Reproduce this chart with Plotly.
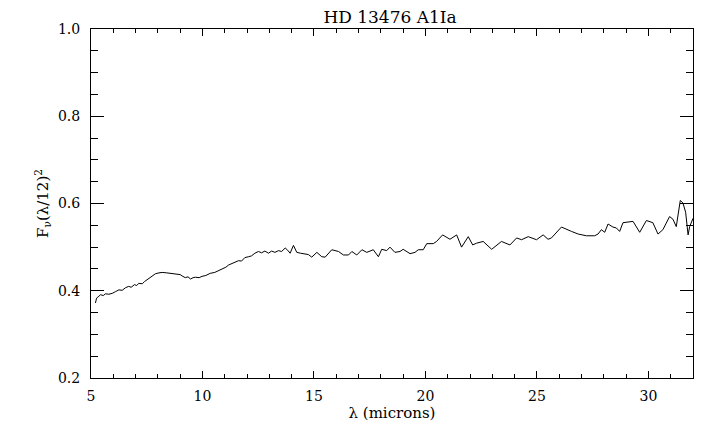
import plotly.graph_objects as go

wavelength = [5.20, 5.25, 5.32, 5.43, 5.55, 5.65, 5.80, 5.95, 6.10, 6.25, 6.40, 6.55, 6.69, 6.80,
              6.95, 7.05, 7.14, 7.30, 7.40, 7.52, 7.70, 7.89, 8.05, 8.19, 8.40, 8.64, 8.80, 9.00,
              9.12, 9.23, 9.35, 9.46, 9.58, 9.68, 9.85, 9.98, 10.15, 10.35, 10.55, 10.72, 10.90,
              11.05, 11.17, 11.30, 11.45, 11.62, 11.75, 11.90, 12.07, 12.20, 12.35, 12.51, 12.65,
              12.80, 12.96, 13.10, 13.25, 13.41, 13.55, 13.71, 13.82, 13.93, 14.08, 14.23, 14.40,
              14.60, 14.75, 14.90, 15.13, 15.35, 15.50, 15.80, 16.10, 16.32, 16.55, 16.70, 16.92,
              17.15, 17.37, 17.66, 17.89, 18.04, 18.26, 18.41, 18.63, 18.86, 19.00, 19.31, 19.53,
              19.68, 19.90, 20.06, 20.35, 20.50, 20.77, 21.10, 21.40, 21.62, 21.92, 22.12, 22.29,
              22.59, 22.97, 23.41, 23.79, 24.09, 24.31, 24.61, 24.98, 25.28, 25.50, 25.65, 26.10,
              26.55, 26.85, 27.22, 27.59, 27.74, 27.89, 28.04, 28.19, 28.41, 28.56, 28.71, 28.86,
              29.31, 29.61, 29.91, 30.20, 30.43, 30.65, 30.95, 31.10, 31.25, 31.43, 31.55, 31.67,
              31.78, 31.85, 32.00]
flux = [0.372, 0.383, 0.386, 0.391, 0.389, 0.393, 0.392, 0.394, 0.398, 0.402, 0.401, 0.407, 0.410, 0.408,
        0.414, 0.412, 0.417, 0.416, 0.421, 0.425, 0.432, 0.439, 0.441, 0.442, 0.441, 0.440, 0.439, 0.437,
        0.433, 0.430, 0.432, 0.427, 0.430, 0.431, 0.430, 0.433, 0.435, 0.440, 0.442, 0.446, 0.452,
        0.454, 0.459, 0.462, 0.464, 0.469, 0.468, 0.476, 0.478, 0.480, 0.486, 0.490, 0.487,
        0.491, 0.486, 0.491, 0.488, 0.492, 0.490, 0.498, 0.493, 0.486, 0.504, 0.488, 0.486,
        0.485, 0.483, 0.477, 0.488, 0.478, 0.477, 0.494, 0.490, 0.482, 0.482, 0.490, 0.482,
        0.494, 0.488, 0.494, 0.478, 0.495, 0.492, 0.500, 0.488, 0.490, 0.495, 0.485, 0.488,
        0.494, 0.494, 0.508, 0.508, 0.513, 0.528, 0.518, 0.528, 0.500, 0.524, 0.505, 0.509,
        0.513, 0.495, 0.513, 0.505, 0.521, 0.517, 0.524, 0.517, 0.528, 0.518, 0.521, 0.546,
        0.536, 0.530, 0.526, 0.526, 0.530, 0.540, 0.534, 0.553, 0.546, 0.544, 0.536, 0.556,
        0.559, 0.534, 0.561, 0.556, 0.530, 0.540, 0.570, 0.564, 0.547, 0.607, 0.601, 0.580,
        0.528, 0.547, 0.566]

X_RANGE = [5, 32]
Y_RANGE = [0.2, 1.0]
minor_x = [5 + i for i in range(28)]
minor_y = [round(0.2 + 0.05 * i, 2) for i in range(17)]

FONT = "DejaVu Serif"

fig = go.Figure()
fig.add_trace(go.Scatter(x=wavelength, y=flux, mode="lines",
                         line=dict(color="black", width=1), showlegend=False,
                         hoverinfo="skip"))
# empty trace so the overlay axes carrying the minor ticks are drawn
fig.add_trace(go.Scatter(x=[], y=[], xaxis="x2", yaxis="y2", showlegend=False, hoverinfo="skip"))

# page body adds an 8px offset, so margins are shifted to land the plot box at 91..693 x 29..378
fig.update_layout(
    width=720, height=439,
    margin=dict(l=83, r=35, t=21, b=69, autoexpand=False),
    paper_bgcolor="white", plot_bgcolor="white",
    font=dict(family=FONT, color="black", size=14),
    title=dict(text="HD 13476 A1Ia", x=0.5306, xanchor="center", xref="container",
               y=0.994, yanchor="top", yref="container",
               font=dict(family=FONT, size=17, color="black")),
    xaxis=dict(
        range=X_RANGE, tickmode="linear", tick0=5, dtick=5, ticks="inside", ticklen=7, tickwidth=1,
        tickcolor="black", automargin=False,
        showline=True, linecolor="black", linewidth=1, mirror="ticks", showgrid=False, zeroline=False,
        tickfont=dict(family=FONT, size=14), ticklabelstandoff=5,
        title=dict(text="λ (microns)", font=dict(family=FONT, size=15), standoff=2),
    ),
    yaxis=dict(
        range=Y_RANGE, tickmode="linear", tick0=0.2, dtick=0.2, tickformat=".1f", ticks="inside",
        ticklen=13, tickwidth=1, automargin=False,
        tickcolor="black", showline=True, linecolor="black", linewidth=1, mirror="ticks",
        showgrid=False, zeroline=False,
        tickfont=dict(family=FONT, size=14), ticklabelstandoff=7,
        title=dict(text="F<sub>ν</sub>(λ/12)<sup>2</sup>", font=dict(family=FONT, size=15), standoff=5),
    ),
    xaxis2=dict(
        overlaying="x", side="bottom", anchor="y2", range=X_RANGE, tickmode="array", tickvals=minor_x,
        showticklabels=False, ticks="inside", ticklen=4, tickwidth=1, tickcolor="black",
        showline=True, linecolor="black", linewidth=1, mirror="ticks",
        showgrid=False, zeroline=False, automargin=False, layer="below traces",
    ),
    yaxis2=dict(
        overlaying="y", side="left", anchor="x2", range=Y_RANGE, tickmode="array", tickvals=minor_y,
        showticklabels=False, ticks="inside", ticklen=7, tickwidth=1, tickcolor="black",
        showline=True, linecolor="black", linewidth=1, mirror="ticks",
        showgrid=False, zeroline=False, automargin=False, layer="below traces",
    ),
)

fig.write_html("out.html")
